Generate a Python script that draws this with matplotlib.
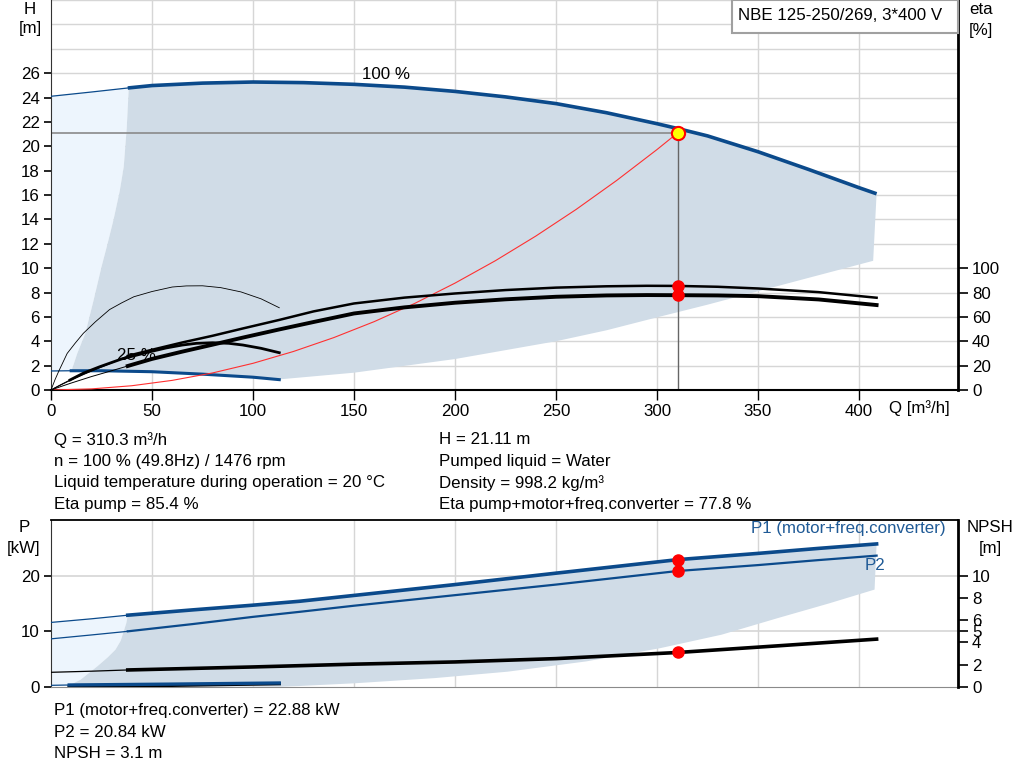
import matplotlib
matplotlib.use("Agg")
import matplotlib.pyplot as plt
from matplotlib.patches import Rectangle, Polygon

plt.rcParams['font.family'] = ['Liberation Sans', 'DejaVu Sans']
plt.rcParams['font.size'] = 12.2

# ---- data ----
# head curve at 100 % speed (thin part, then thick part)
q_h100_ext = [0, 20, 38]
h_h100_ext = [24.1, 24.45, 24.78]
q_h100 = [38, 50, 75, 100, 125, 150, 175, 200, 225, 250, 275, 300, 310.3, 325, 350, 375, 400, 408.7]
h_h100 = [24.78, 24.98, 25.18, 25.27, 25.22, 25.08, 24.85, 24.5, 24.05, 23.5, 22.75, 21.85,
          21.45, 20.85, 19.55, 18.1, 16.6, 16.1]

# head curve at 25 % speed
q_h25 = [0, 10, 25, 50, 75, 100, 113]
h_h25 = [1.56, 1.58, 1.58, 1.5, 1.3, 1.05, 0.85]

# eta pump / eta total at 100 % speed [%]
q_eta_ext = [0, 5, 10, 20, 30, 38]
eta_pump_ext = [0, 4.3, 8.3, 15.5, 22.2, 28]
eta_tot_ext = [0, 2.9, 5.7, 11, 15.8, 19.7]
q_eta = [38, 50, 65, 80, 95, 113, 130, 150, 175, 200, 225, 250, 275, 295, 310.3, 330, 350, 380, 408.7]
eta_pump = [28, 33, 39, 44.5, 50.5, 57.5, 64.5, 71, 75.8, 79.2, 82, 84, 85.1, 85.5, 85.4,
            84.7, 83.3, 80.3, 75.7]
eta_tot = [19.7, 25.5, 31.5, 37.2, 43, 49.7, 55.8, 62.8, 67.8, 71.6, 74.4, 76.5, 77.6, 77.9,
           77.8, 77.6, 77, 74.3, 69.7]

# eta curves at 25 % speed [%]
q_eta25_pump = [0, 2, 4, 6, 8, 12, 16, 22, 29, 35, 41, 50, 60, 67, 75, 84, 94, 104, 113]
eta25_pump = [0, 8.5, 16, 23, 30, 38.5, 46.5, 56, 66, 71.5, 76.5, 80.8, 84.5, 85.4, 85.5,
              84, 80.5, 74.8, 67.5]
q_eta25_tot = [0, 4, 9.4, 16, 24, 35, 49, 57, 65, 72, 80, 88, 95, 104, 113]
eta25_tot = [0, 3.6, 8.2, 13.8, 19, 25.5, 31.4, 34.5, 36.9, 38.3, 38.8, 38.3, 36.9, 34.2, 30.6]

# system curve through the duty point
q_sys = [0, 20, 40, 60, 80, 100, 120, 140, 160, 180, 200, 220, 240, 260, 280, 300, 310.3]
h_sys = [0, 0.09, 0.35, 0.79, 1.40, 2.19, 3.16, 4.30, 5.61, 7.10, 8.77, 10.61, 12.63,
         14.82, 17.19, 19.73, 21.11]

# operating range (top)
q_top_floor = [408.7, 407, 375, 350, 325, 300, 275, 250, 200, 150, 113]
h_top_floor = [16.1, 10.6, 9.2, 8.1, 7.0, 5.96, 4.9, 4.0, 2.54, 1.42, 0.87]
q_top_min = [10.2, 13, 17, 21, 25, 28, 31, 34, 36, 37.5, 38.5]
h_top_min = [1.6, 3.0, 4.65, 7.3, 10.1, 12.0, 14.0, 16.3, 18.3, 21.5, 24.8]

# power curves
q_p1_ext = [0, 20, 38]
p1_ext = [11.6, 12.25, 12.9]
q_p = [38, 70, 100, 123, 150, 200, 250, 310.3, 350, 380, 408.7]
p1 = [12.9, 13.85, 14.7, 15.4, 16.45, 18.4, 20.45, 22.88, 24.0, 24.9, 25.7]
p2_ext = [8.65, 9.35, 10.0]
p2 = [10.0, 11.3, 12.6, 13.5, 14.6, 16.5, 18.4, 20.84, 21.9, 22.8, 23.6]
p1_25_q = [0, 9, 60, 113]
p1_25 = [0.3, 0.36, 0.52, 0.72]

# NPSH
q_npsh_ext = [0, 20, 38]
npsh_ext = [1.32, 1.42, 1.53]
q_npsh = [38, 100, 150, 200, 250, 310.3, 360, 408.7]
npsh = [1.53, 1.8, 2.05, 2.25, 2.55, 3.1, 3.7, 4.3]
q_npsh25 = [9, 60, 113]
npsh25 = [0.02, 0.15, 0.3]

# operating range (bottom)
q_bot_floor = [408.7, 407.7, 385, 360, 332, 301.5, 265, 226, 190, 150, 123, 113]
p_bot_floor = [25.7, 17.5, 15.0, 12.4, 9.4, 6.97, 4.6, 2.75, 1.6, 0.66, 0.18, 0.05]
q_bot_min = [9, 14.6, 22.9, 28, 31.9, 34.5, 36, 37.3, 38]
p_bot_min = [0.3, 1.3, 3.7, 5.3, 6.7, 8.3, 10.0, 11.5, 12.9]

q_duty = 310.3
h_duty = 21.11
eta_pump_duty = 85.4
eta_tot_duty = 77.8
p1_duty = 22.88
p2_duty = 20.84
npsh_duty = 3.1

x_ticks = [0, 50, 100, 150, 200, 250, 300, 350, 400]
h_ticks = list(range(0, 28, 2))
eta_ticks = [0, 20, 40, 60, 80, 100]
p_ticks = [0, 10, 20]
npsh_ticks = [0, 2, 4, 5, 6, 8, 10]

info_left = ["Q = 310.3 m³/h", "n = 100 % (49.8Hz) / 1476 rpm",
             "Liquid temperature during operation = 20 °C", "Eta pump = 85.4 %"]
info_right = ["H = 21.11 m", "Pumped liquid = Water", "Density = 998.2 kg/m³",
              "Eta pump+motor+freq.converter = 77.8 %"]
info_bottom = ["P1 (motor+freq.converter) = 22.88 kW", "P2 = 20.84 kW", "NPSH = 3.1 m"]

BLUE = '#0b4a8b'
DARK_FILL = '#d0dce7'
LIGHT_FILL = '#edf5fd'
GRID = '#d6d6d6'

W, H = 1024, 781
fig = plt.figure(figsize=(W / 100, H / 100), dpi=100)


def fx(px):
    return px / W


def fy(py):
    return 1 - py / H


# ---------------- top chart ----------------
ax = fig.add_axes([fx(51), fy(390), fx(958) - fx(51), fy(0) - fy(390)])
ax.set_xlim(0, 449)
ax.set_ylim(0, 32)
ax.set_yticks(h_ticks)
ax.set_xticks(x_ticks)
for v in range(0, 33, 2):
    ax.axhline(v, color=GRID, lw=1, zorder=0)
for v in x_ticks[1:]:
    ax.axvline(v, color=GRID, lw=1, zorder=0)

light = list(zip(q_h100_ext, h_h100_ext)) + [(q_top_min[-1], h_top_min[-1])] + \
    list(zip(q_top_min[::-1], h_top_min[::-1])) + list(zip(q_h25[1::-1], h_h25[1::-1]))
ax.add_patch(Polygon(light, closed=True, fc=LIGHT_FILL, ec='none', zorder=1))
dark = list(zip(q_h100, h_h100)) + list(zip(q_top_floor, h_top_floor)) + \
    list(zip(q_h25[::-1], h_h25[::-1]))[:-2] + list(zip(q_top_min, h_top_min))
ax.add_patch(Polygon(dark, closed=True, fc=DARK_FILL, ec='none', zorder=1))

ax.plot(q_h100_ext, h_h100_ext, color=BLUE, lw=0.9, zorder=3)
ax.plot(q_h100, h_h100, color=BLUE, lw=2.6, zorder=3, solid_capstyle='butt')
ax.plot(q_h25[:2], h_h25[:2], color=BLUE, lw=0.9, zorder=3)
ax.plot(q_h25[1:], h_h25[1:], color=BLUE, lw=2.2, zorder=3)
ax.plot(q_sys, h_sys, color='#ff3030', lw=0.8, zorder=3)
ax.plot([0, q_duty], [h_duty, h_duty], color='#8a8a8a', lw=1.2, zorder=2)
ax.plot([q_duty, q_duty], [0, h_duty], color='#666666', lw=1.0, zorder=2)

ax.text(166, 25.85, "100 %", ha='center', va='center')
ax.text(42.5, 2.85, "25 %", ha='center', va='center', zorder=6)
ax.text(415, -1.5, "Q [m³/h]", ha='left', va='center')

ax.spines['top'].set_visible(False)
ax.spines['right'].set_visible(False)
ax.spines['left'].set_color('#333333')
ax.spines['bottom'].set_linewidth(1.5)
ax.tick_params(axis='y', direction='out', length=5, width=1.2, pad=3)
ax.tick_params(axis='x', direction='out', length=7, width=1, pad=3)

ax2 = ax.twinx()
ax2.set_ylim(0, 320)
ax2.set_yticks(eta_ticks)
ax2.plot(q_eta_ext, eta_pump_ext, color='black', lw=0.7, zorder=3)
ax2.plot(q_eta_ext, eta_tot_ext, color='black', lw=0.7, zorder=3)
ax2.plot(q_eta25_pump, eta25_pump, color='black', lw=0.6, zorder=3)
ax2.plot(q_eta25_tot[:3], eta25_tot[:3], color='black', lw=0.7, zorder=3)
ax2.plot(q_eta25_tot[2:], eta25_tot[2:], color='black', lw=2.0, zorder=3)
ax2.plot(q_eta, eta_pump, color='black', lw=1.8, zorder=3)
ax2.plot(q_eta, eta_tot, color='black', lw=2.8, zorder=3)
ax2.plot([q_duty, q_duty], [eta_pump_duty, eta_tot_duty], 'o', color='#ff0000',
         ms=8, mec='#ff0000', zorder=5)
ax2.spines['right'].set_linewidth(2)
ax2.spines['top'].set_visible(False)
ax2.spines['left'].set_visible(False)
ax2.spines['bottom'].set_visible(False)
ax2.tick_params(axis='y', direction='out', length=7, width=1.2, pad=3)
# duty point on the head curve, drawn last so it sits on top
ax2.plot([q_duty], [h_duty * 10], 'o', ms=9.5, mfc='#ffff00', mec='#ff0000', mew=1.5, zorder=6)

# ---------------- bottom chart ----------------
bx = fig.add_axes([fx(51), fy(687), fx(958) - fx(51), fy(520) - fy(687)])
bx.set_xlim(0, 449)
bx.set_ylim(0, 30)
bx.set_xticks(x_ticks)
bx.set_yticks(p_ticks)
bx.tick_params(axis='x', length=0, labelbottom=False)
for v in [10, 20]:
    bx.axhline(v, color=GRID, lw=1.2, zorder=0)
for v in x_ticks[1:]:
    bx.axvline(v, color=GRID, lw=1, zorder=0)

light_b = list(zip(q_p1_ext, p1_ext)) + list(zip(q_bot_min[::-1], p_bot_min[::-1])) + [(0, p1_25[0])]
bx.add_patch(Polygon(light_b, closed=True, fc=LIGHT_FILL, ec='none', zorder=1))
dark_b = list(zip(q_p, p1)) + list(zip(q_bot_floor, p_bot_floor)) + list(zip(q_bot_min, p_bot_min))
bx.add_patch(Polygon(dark_b, closed=True, fc=DARK_FILL, ec='none', zorder=1))

bx.plot(q_p1_ext, p1_ext, color=BLUE, lw=0.9, zorder=3)
bx.plot(q_p, p1, color=BLUE, lw=2.6, zorder=3)
bx.plot(q_p1_ext, p2_ext, color=BLUE, lw=0.9, zorder=3)
bx.plot(q_p, p2, color=BLUE, lw=1.6, zorder=3)
bx.plot([q_duty, q_duty], [p1_duty, p2_duty], 'o', color='#ff0000', ms=8, zorder=5)

fig.text(fx(946), fy(528), "P1 (motor+freq.converter)", ha='right', va='center', color='#1f5a96')
fig.text(fx(875), fy(566), "P2", ha='center', va='center', color='#1f5a96')

bx.spines['right'].set_visible(False)
bx.spines['top'].set_linewidth(1.3)
bx.spines['bottom'].set_color('#8a8a8a')
bx.spines['left'].set_color('#333333')
bx.tick_params(axis='y', direction='out', length=5, width=1.2, pad=3)

bx2 = bx.twinx()
bx2.set_ylim(0, 15)
bx2.set_yticks(npsh_ticks)
bx2.plot(q_npsh_ext, npsh_ext, color='black', lw=0.9, zorder=3)
bx2.plot(q_npsh, npsh, color='black', lw=2.6, zorder=3)
bx2.plot(q_npsh25, npsh25, color='black', lw=2.4, zorder=3)
bx2.plot([q_duty], [npsh_duty], 'o', color='#ff0000', ms=8, zorder=5)
bx2.spines['right'].set_linewidth(2)
bx2.spines['top'].set_visible(False)
bx2.spines['left'].set_visible(False)
bx2.spines['bottom'].set_visible(False)
bx2.tick_params(axis='y', direction='out', length=7, width=1.2, pad=3)
# 25 % P1 line sits above the NPSH line
bx3 = bx.twinx()
bx3.set_ylim(0, 30)
bx3.axis('off')
bx3.plot(p1_25_q[:2], p1_25[:2], color=BLUE, lw=0.9)
bx3.plot(p1_25_q[1:], p1_25[1:], color=BLUE, lw=2.4)

# ---------------- labels and texts ----------------
fig.text(fx(30), fy(9), "H", ha='center', va='center')
fig.text(fx(30), fy(29), "[m]", ha='center', va='center')
fig.text(fx(981), fy(10), "eta", ha='center', va='center')
fig.text(fx(981), fy(30), "[%]", ha='center', va='center')
fig.text(fx(24), fy(528), "P", ha='center', va='center')
fig.text(fx(24), fy(549), "[kW]", ha='center', va='center')
fig.text(fx(990), fy(528), "NPSH", ha='center', va='center')
fig.text(fx(990), fy(549), "[m]", ha='center', va='center')

fig.patches.append(Rectangle((fx(732), fy(33)), fx(958) - fx(732), fy(0) - fy(33),
                             transform=fig.transFigure, fc='white', ec='#a0a0a0', lw=1.5, zorder=10))
fig.text(fx(738), fy(15), "NBE 125-250/269, 3*400 V", ha='left', va='center', zorder=11)

for i, s in enumerate(info_left):
    fig.text(fx(54), fy(440 + i * 21.5), s, ha='left', va='center')
for i, s in enumerate(info_right):
    fig.text(fx(439), fy(440 + i * 21.5), s, ha='left', va='center')
for i, s in enumerate(info_bottom):
    fig.text(fx(54), fy(711 + i * 21.5), s, ha='left', va='center')

fig.savefig("out.png", dpi=100)
